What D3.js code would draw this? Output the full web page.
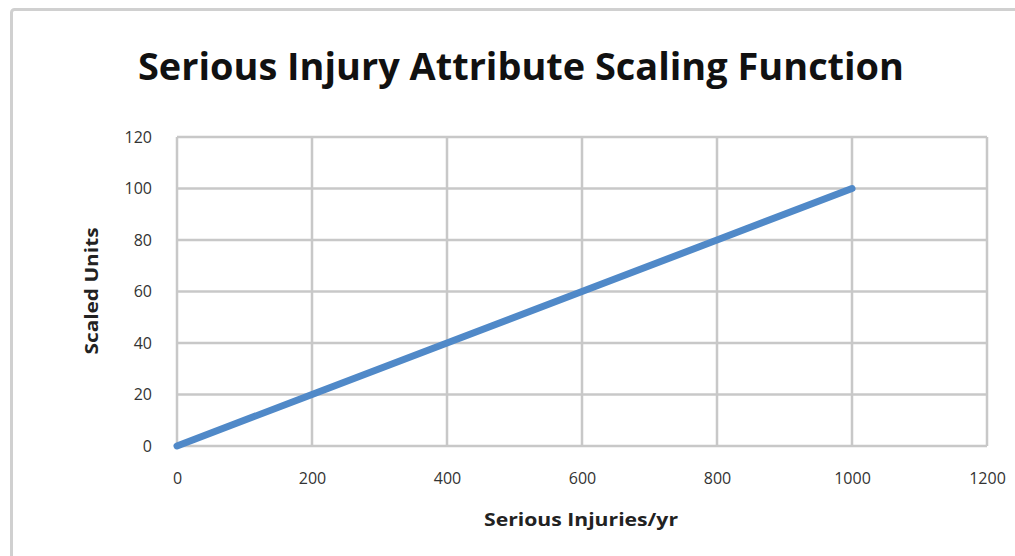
<!DOCTYPE html>
<html>
<head>
<meta charset="utf-8">
<script src="https://d3js.org/d3.v7.min.js"></script>
<style>
  body { margin: 0; background: #fff; }
  text { font-family: "Open Sans", "Noto Sans", sans-serif; }
</style>
</head>
<body>
<script>
// data
var injuries = [0, 200, 400, 600, 800, 1000];
var scaled   = [0, 20, 40, 60, 80, 100];
var xTicks = [0, 200, 400, 600, 800, 1000, 1200];
var yTicks = [0, 20, 40, 60, 80, 100, 120];

var W = 1015, H = 556;

var svg = d3.select("body").append("svg")
    .attr("width", W)
    .attr("height", H);

// outer chart frame (only left/top visible in the crop)
svg.append("rect")
    .attr("x", 11.5).attr("y", 9.5)
    .attr("width", W + 20).attr("height", H + 20)
    .attr("rx", 3)
    .attr("fill", "#fff")
    .attr("stroke", "#d0d0d0")
    .attr("stroke-width", 3);

var x = d3.scaleLinear().domain([0, 1200]).range([177, 987]);
var y = d3.scaleLinear().domain([0, 120]).range([446, 137]);

// gridlines
svg.append("g").selectAll("line.v")
    .data(xTicks).enter().append("line")
    .attr("x1", x).attr("x2", x)
    .attr("y1", y(0)).attr("y2", y(120))
    .attr("stroke", "#c8c8c8").attr("stroke-width", 2.5);

svg.append("g").selectAll("line.h")
    .data(yTicks).enter().append("line")
    .attr("x1", x(0)).attr("x2", x(1200))
    .attr("y1", y).attr("y2", y)
    .attr("stroke", "#c8c8c8").attr("stroke-width", 2.5);

// axes (labels only)
var xAxis = svg.append("g")
    .attr("transform", "translate(0," + y(0) + ")")
    .call(d3.axisBottom(x).tickValues(xTicks).tickFormat(d3.format("d"))
      .tickSize(0).tickPadding(27));
var yAxis = svg.append("g")
    .attr("transform", "translate(" + x(0) + ",0)")
    .call(d3.axisLeft(y).tickValues(yTicks).tickFormat(d3.format("d"))
      .tickSize(0).tickPadding(25));

[xAxis, yAxis].forEach(function (g) {
  g.select(".domain").remove();
  g.selectAll("text")
      .style("font-size", "16px")
      .style("font-family", "'Open Sans', sans-serif")
      .attr("fill", "#333");
});

// series
var pts = injuries.map(function (d, i) { return [d, scaled[i]]; });
svg.append("path")
    .datum(pts)
    .attr("fill", "none")
    .attr("stroke", "#5089c8")
    .attr("stroke-width", 7)
    .attr("stroke-linecap", "round")
    .attr("d", d3.line()
      .x(function (d) { return x(d[0]); })
      .y(function (d) { return y(d[1]); }));

// title
svg.append("text")
    .attr("x", 521).attr("y", 80)
    .attr("text-anchor", "middle")
    .attr("font-weight", "bold")
    .attr("font-size", 37)
    .attr("fill", "#111")
    .attr("textLength", 766)
    .attr("lengthAdjust", "spacingAndGlyphs")
    .text("Serious Injury Attribute Scaling Function");

// axis titles
svg.append("text")
    .attr("x", 581).attr("y", 526)
    .attr("text-anchor", "middle")
    .attr("font-weight", "bold")
    .attr("font-size", 17)
    .attr("fill", "#222")
    .attr("textLength", 194)
    .attr("lengthAdjust", "spacingAndGlyphs")
    .text("Serious Injuries/yr");

svg.append("text")
    .attr("transform", "translate(98,291) rotate(-90)")
    .attr("text-anchor", "middle")
    .attr("font-weight", "bold")
    .attr("font-size", 17)
    .attr("fill", "#222")
    .attr("textLength", 127)
    .attr("lengthAdjust", "spacingAndGlyphs")
    .text("Scaled Units");
</script>
</body>
</html>
